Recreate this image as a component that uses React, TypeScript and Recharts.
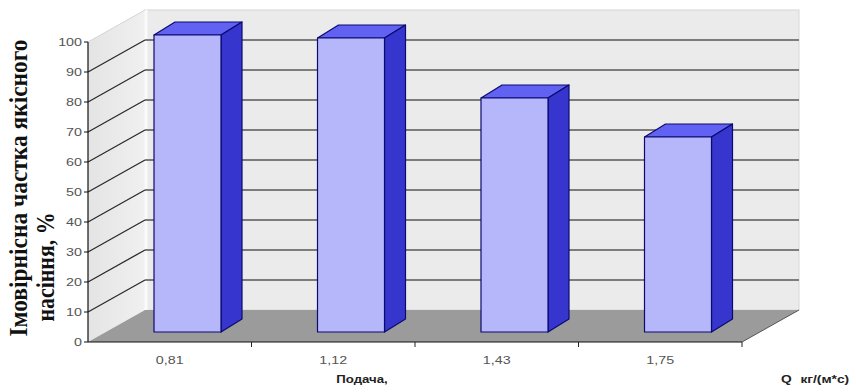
import React from 'react';
import {
  BarChart,
  Bar,
  XAxis,
  YAxis,
  ReferenceArea,
  ReferenceLine,
} from 'recharts';

// feed rate Q, kg/(m*s) and share of good seed, %
const feedRates = ['0,81', '1,12', '1,43', '1,75'];
const qualityShare = [99, 98, 78, 65];
const yTicks = [0, 10, 20, 30, 40, 50, 60, 70, 80, 90, 100];

const chartData = feedRates.map((feed, i) => ({ feed, share: qualityShare[i] }));

// oblique projection of the box: full depth of the plot and of a column
const DEPTH_X = 57;
const DEPTH_Y = 32;
const COL_OFFSET_X = 18;
const COL_OFFSET_Y = 10;
const COL_DEPTH_X = 21;
const COL_DEPTH_Y = 13;

// labels are drawn a bit wide, like the old spreadsheet export
const STRETCH = 1.3;

const SANS = 'Arial, "Liberation Sans", sans-serif';
const SERIF = '"Times New Roman", "Liberation Serif", serif';

const Walls = (props: any) => {
  const { x, y, width, height } = props;
  const bottom = y + height;
  return (
    <g>
      <defs>
        <linearGradient id="sideWall" x1="0" y1="0" x2="1" y2="0">
          <stop offset="0%" stopColor="#e4e4e4" />
          <stop offset="100%" stopColor="#f0f0f0" />
        </linearGradient>
      </defs>
      {/* back wall */}
      <rect
        x={x + DEPTH_X}
        y={y - DEPTH_Y}
        width={width}
        height={height}
        fill="#ebebeb"
        stroke="#d6d6d6"
        strokeWidth={1}
      />
      {/* left wall */}
      <polygon
        points={`${x},${y} ${x + DEPTH_X},${y - DEPTH_Y} ${x + DEPTH_X},${bottom - DEPTH_Y} ${x},${bottom}`}
        fill="url(#sideWall)"
      />
      <line
        x1={x + DEPTH_X + 1}
        y1={y - DEPTH_Y}
        x2={x + DEPTH_X + 1}
        y2={bottom - DEPTH_Y}
        stroke="#fafafa"
        strokeWidth={3}
      />
      {/* floor */}
      <polygon
        points={`${x},${bottom} ${x + width},${bottom} ${x + width + DEPTH_X},${bottom - DEPTH_Y} ${x + DEPTH_X},${bottom - DEPTH_Y}`}
        fill="#9b9b9b"
      />
      <line
        x1={x + width}
        y1={bottom}
        x2={x + width + DEPTH_X}
        y2={bottom - DEPTH_Y}
        stroke="#555"
        strokeWidth={1}
      />
    </g>
  );
};

const WallGridLine = (props: any) => {
  const { x1, x2, y1 } = props;
  const top = props.value === 100;
  return (
    <g>
      <line
        x1={x1}
        y1={y1}
        x2={x1 + DEPTH_X}
        y2={y1 - DEPTH_Y}
        stroke={top ? '#d4d4d4' : '#2a2a2a'}
        strokeWidth={top ? 1 : 1.3}
      />
      {!top && (
        <line
          x1={x1 + DEPTH_X}
          y1={y1 - DEPTH_Y}
          x2={x2 + DEPTH_X}
          y2={y1 - DEPTH_Y}
          stroke="#7c7c7c"
          strokeWidth={2}
        />
      )}
    </g>
  );
};

const Column3D = (props: any) => {
  const { x, y, width, height } = props;
  if (!height) return null;
  const fx = x + COL_OFFSET_X;
  const fy = y - COL_OFFSET_Y;
  const fb = y + height - COL_OFFSET_Y;
  const rx = fx + width;
  return (
    <g stroke="#0b0b6e" strokeWidth={1.2} strokeLinejoin="round">
      <polygon
        points={`${fx},${fy} ${fx + COL_DEPTH_X},${fy - COL_DEPTH_Y} ${rx + COL_DEPTH_X},${fy - COL_DEPTH_Y} ${rx},${fy}`}
        fill="#6262f2"
      />
      <polygon
        points={`${rx},${fy} ${rx + COL_DEPTH_X},${fy - COL_DEPTH_Y} ${rx + COL_DEPTH_X},${fb - COL_DEPTH_Y} ${rx},${fb}`}
        fill="#3636cf"
      />
      <rect x={fx} y={fy} width={width} height={fb - fy} fill="#b6b6fb" />
    </g>
  );
};

const FeedTick = (props: any) => {
  const { x, y, width, visibleTicksCount, payload } = props;
  const half = width / visibleTicksCount / 2;
  return (
    <g>
      <line x1={x + half} y1={y} x2={x + half} y2={y + 5} stroke="#222" strokeWidth={1} />
      <text
        transform={`translate(${x},${y + 22}) scale(${STRETCH},1)`}
        textAnchor="middle"
        fill="#555"
        fontSize={11}
        fontFamily={SANS}
      >
        {payload.value}
      </text>
    </g>
  );
};

const ShareTick = (props: any) => {
  const { x, y, payload } = props;
  return (
    <text
      transform={`translate(${x},${y + 4}) scale(${STRETCH},1)`}
      textAnchor="end"
      fill="#555"
      fontSize={11}
      fontFamily={SANS}
    >
      {payload.value}
    </text>
  );
};

export default function App() {
  return (
    <div style={{ position: 'absolute', left: 0, top: 0, width: 856, height: 392, background: '#fff' }}>
      <BarChart
        width={856}
        height={392}
        data={chartData}
        margin={{ top: 42, right: 114, left: 0, bottom: 0 }}
        barSize={67}
      >
        <ReferenceArea y1={0} y2={100} shape={<Walls />} zIndex={-200} />
        {yTicks
          .filter((v) => v > 0)
          .map((v) => (
            <ReferenceLine
              key={`grid-${v}`}
              y={v}
              shape={(p: any) => <WallGridLine {...p} value={v} />}
              zIndex={-150}
            />
          ))}
        <XAxis
          dataKey="feed"
          height={50}
          axisLine={{ stroke: '#111', strokeWidth: 1.2 }}
          tickLine={false}
          tickSize={0}
          tickMargin={0}
          tick={<FeedTick />}
          interval={0}
        />
        <YAxis
          width={88}
          domain={[0, 100]}
          ticks={yTicks}
          interval={0}
          axisLine={{ stroke: '#111', strokeWidth: 1.2 }}
          tickLine={{ stroke: '#111' }}
          tickSize={4}
          tickMargin={2}
          tick={<ShareTick />}
        />
        <Bar dataKey="share" shape={<Column3D />} isAnimationActive={false} />
      </BarChart>
      <svg
        width={856}
        height={392}
        style={{ position: 'absolute', left: 0, top: 0, pointerEvents: 'none' }}
      >
        <text
          transform="translate(27,188) rotate(-90)"
          textAnchor="middle"
          fontFamily={SERIF}
          fontWeight="bold"
          fontSize={25}
          textLength={297}
          lengthAdjust="spacingAndGlyphs"
          fill="#111"
        >
          Імовірнісна частка якісного
        </text>
        <text
          transform="translate(54,267) rotate(-90)"
          textAnchor="middle"
          fontFamily={SERIF}
          fontWeight="bold"
          fontSize={25}
          textLength={109}
          lengthAdjust="spacingAndGlyphs"
          fill="#111"
        >
          насіння, %
        </text>
        <text
          transform="translate(362,383) scale(1.2,1)"
          textAnchor="middle"
          fontFamily={SANS}
          fontWeight="bold"
          fontSize={11}
          fill="#222"
        >
          Подача,
        </text>
        <text
          transform="translate(781,383) scale(1.25,1)"
          fontFamily={SANS}
          fontWeight="bold"
          fontSize={11}
          fill="#222"
        >
          Q<tspan dx={7}>кг/(м*с)</tspan>
        </text>
      </svg>
    </div>
  );
}
